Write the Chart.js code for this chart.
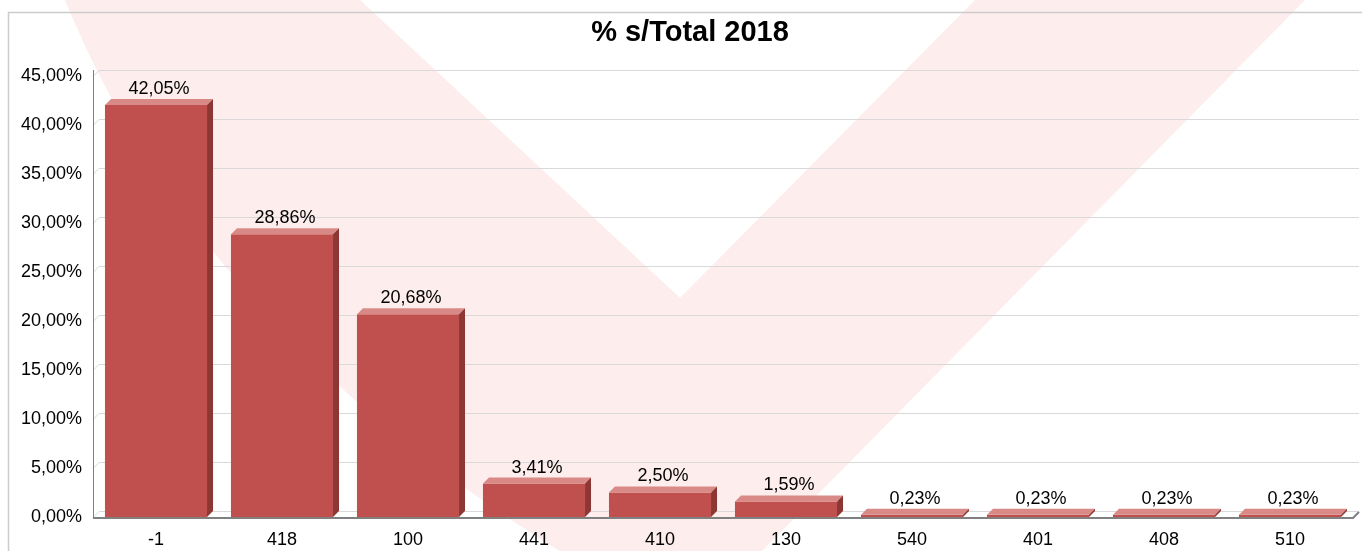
<!DOCTYPE html>
<html>
<head>
<meta charset="utf-8">
<script src="https://cdn.jsdelivr.net/npm/chart.js@4/dist/chart.umd.min.js"></script>
<style>
  html, body { margin: 0; padding: 0; background: #fff; }
  #wrap { width: 1362px; height: 551px; position: relative; }
</style>
</head>
<body>
<div id="wrap"><canvas id="chart"></canvas></div>
<script>
// values
const categories = ['-1', '418', '100', '441', '410', '130', '540', '401', '408', '510'];
const shares = [42.05, 28.86, 20.68, 3.41, 2.50, 1.59, 0.23, 0.23, 0.23, 0.23];
const chartTitle = '% s/Total 2018';
const yMax = 45;
const yStep = 5;

const FONT = '"Liberation Sans", Arial, sans-serif';
const DEPTH = 6;

function pct(v) {
  return v.toFixed(2).replace('.', ',') + '%';
}

// background, watermark, frame, title and the 3d bits
const decor = {
  id: 'decor',
  beforeDraw(chart) {
    const ctx = chart.ctx;
    const w = chart.width, h = chart.height;
    ctx.save();
    ctx.fillStyle = '#fff';
    ctx.fillRect(0, 0, w, h);

    // faint "V" watermark
    ctx.fillStyle = '#fdeded';
    ctx.beginPath();
    ctx.moveTo(65, 0);
    ctx.lineTo(360, 0);
    ctx.lineTo(680, 298);
    ctx.lineTo(975, 0);
    ctx.lineTo(1305, 0);
    ctx.lineTo(760, h + 2);
    ctx.lineTo(563, h + 2);
    ctx.quadraticCurveTo(200, 330, 65, 0);
    ctx.fill();

    // frame
    ctx.strokeStyle = '#cccccc';
    ctx.lineWidth = 1.5;
    ctx.beginPath();
    ctx.moveTo(8.5, h + 2);
    ctx.lineTo(8.5, 12.5);
    ctx.lineTo(w + 2, 12.5);
    ctx.stroke();

    // title
    ctx.fillStyle = '#000';
    ctx.font = 'bold 29px ' + FONT;
    ctx.textAlign = 'center';
    ctx.textBaseline = 'middle';
    ctx.fillText(chartTitle, 690, 33);
    ctx.restore();
  },
  beforeDatasetsDraw(chart) {
    const ctx = chart.ctx;
    const a = chart.chartArea;
    const ys = chart.scales.y;
    ctx.save();
    // back wall grid
    ctx.strokeStyle = '#d9d9d9';
    ctx.lineWidth = 1;
    ys.ticks.forEach(t => {
      const y = Math.round(ys.getPixelForValue(t.value)) + 0.5;
      ctx.beginPath();
      ctx.moveTo(a.left, y);
      ctx.lineTo(a.left + DEPTH, y - DEPTH);
      ctx.lineTo(a.right + DEPTH, y - DEPTH);
      ctx.stroke();
    });
    // y axis
    ctx.strokeStyle = '#808080';
    ctx.beginPath();
    ctx.moveTo(a.left + 0.5, a.top - DEPTH);
    ctx.lineTo(a.left + 0.5, a.bottom);
    ctx.stroke();
    // floor edge
    ctx.lineWidth = 2;
    ctx.beginPath();
    ctx.moveTo(a.left, a.bottom + 1);
    ctx.lineTo(a.right, a.bottom + 1);
    ctx.lineTo(a.right + DEPTH, a.bottom + 1 - DEPTH);
    ctx.stroke();
    ctx.restore();
  },
  afterDatasetsDraw(chart) {
    const ctx = chart.ctx;
    const meta = chart.getDatasetMeta(0);
    ctx.save();
    meta.data.forEach((bar, i) => {
      const l = bar.x - bar.width / 2;
      const r = bar.x + bar.width / 2;
      const top = bar.y;
      const base = bar.base;
      // top face
      ctx.fillStyle = '#d98a87';
      ctx.beginPath();
      ctx.moveTo(l, top);
      ctx.lineTo(l + DEPTH, top - DEPTH);
      ctx.lineTo(r + DEPTH, top - DEPTH);
      ctx.lineTo(r, top);
      ctx.closePath();
      ctx.fill();
      // side face
      ctx.fillStyle = '#8c3734';
      ctx.beginPath();
      ctx.moveTo(r, top);
      ctx.lineTo(r + DEPTH, top - DEPTH);
      ctx.lineTo(r + DEPTH, base - DEPTH);
      ctx.lineTo(r, base);
      ctx.closePath();
      ctx.fill();
      // value label
      ctx.fillStyle = '#000';
      ctx.font = '18px ' + FONT;
      ctx.textAlign = 'center';
      ctx.textBaseline = 'bottom';
      ctx.fillText(pct(shares[i]), bar.x + DEPTH / 2, top - DEPTH - 1);
    });
    ctx.restore();
  }
};

const ctx = document.getElementById('chart').getContext('2d');
new Chart(ctx, {
  type: 'bar',
  data: {
    labels: categories,
    datasets: [{
      label: chartTitle,
      data: shares,
      backgroundColor: '#c0504d',
      borderWidth: 0,
      barPercentage: 0.81,
      categoryPercentage: 1
    }]
  },
  options: {
    responsive: true,
    maintainAspectRatio: false,
    animation: false,
    devicePixelRatio: 1,
    layout: { padding: { top: 76, right: 9, left: 0, bottom: 0 } },
    plugins: {
      legend: { display: false },
      title: { display: false },
      tooltip: { enabled: false }
    },
    scales: {
      x: {
        grid: { display: false, drawTicks: false },
        border: { display: false },
        ticks: { color: '#000', font: { family: FONT, size: 18 }, padding: 12 },
        afterFit: s => { s.height = 34; }
      },
      y: {
        min: 0,
        max: yMax,
        grid: { display: false, drawTicks: false },
        border: { display: false },
        ticks: {
          stepSize: yStep,
          color: '#000',
          font: { family: FONT, size: 18 },
          padding: 11,
          callback: v => pct(v)
        },
        afterFit: s => { s.width = 93; }
      }
    }
  },
  plugins: [decor]
});
</script>
</body>
</html>
